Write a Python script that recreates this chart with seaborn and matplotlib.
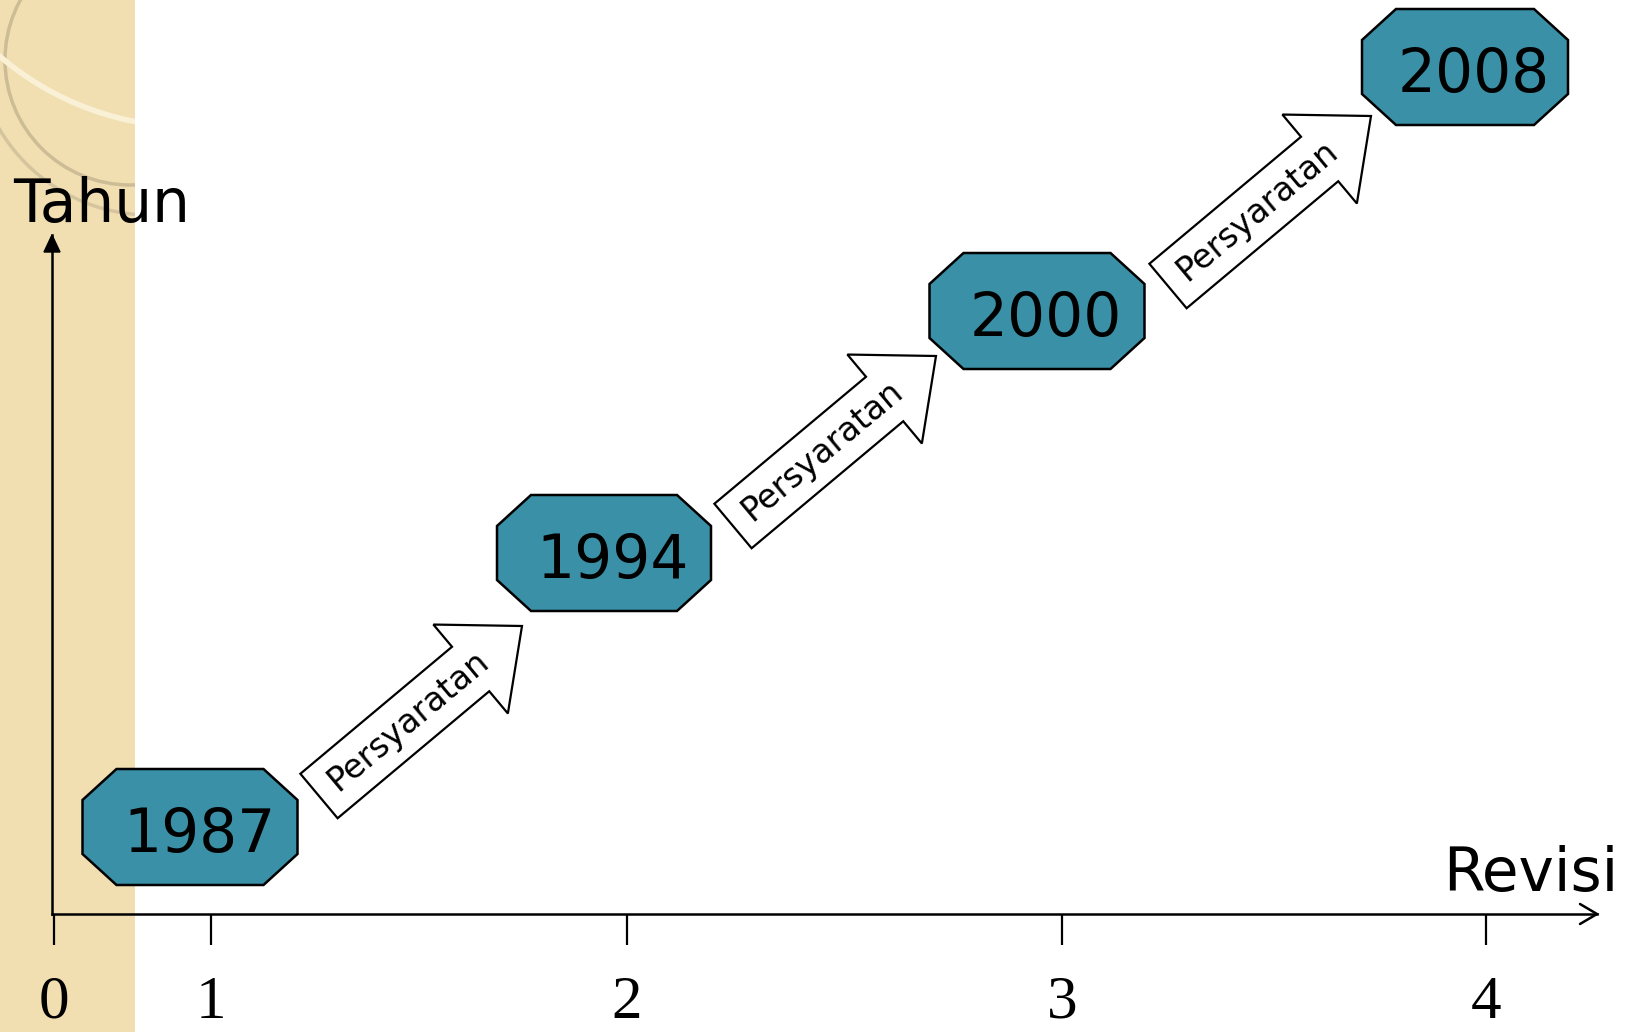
import numpy as np
import matplotlib.pyplot as plt
import seaborn as sns
from matplotlib.patches import Polygon, Rectangle, Circle, FancyArrow

# Data (posisi dalam piksel dari titik asal sumbu)
tahun = ["1987", "1994", "2000", "2008"]
revisi_label = ["0", "1", "2", "3", "4"]
revisi_pos = [2, 159, 575, 1010, 1434]
kotak_x = [138, 552, 985, 1413]
kotak_y = [87, 361, 603, 847]
kotak_lebar = [215, 214, 215, 206]
panah_x = [267, 681, 1116]
panah_y = [118, 388, 628]
panah_teks = "Persyaratan"

sns.set_theme(style="ticks")
plt.rcParams["font.family"] = ["DejaVu Sans"]
plt.rcParams["text.color"] = "black"

W, H = 1630, 1032
fig = plt.figure(figsize=(W / 100, H / 100), dpi=100)
fig.patch.set_facecolor("white")

# Latar belakang: strip krem di kiri
bg = fig.add_axes([0, 0, 1, 1], zorder=0)
bg.set_xlim(0, W)
bg.set_ylim(H, 0)
bg.axis("off")
strip = Rectangle((0, 0), 135, H, facecolor="#f1dfb2", edgecolor="none")
bg.add_patch(strip)
for c in [Circle((130, 60), 125, fill=False, ec="#cdbd96", lw=2.5),
          Circle((150, 40), 175, fill=False, ec="#d5c59f", lw=2.5),
          Circle((191, -167), 294, fill=False, ec="#f9f0d6", lw=4)]:
    bg.add_patch(c)
    c.set_clip_path(strip)

# Sumbu utama
x0, y0, x1, y1 = 52, 914, 1597, 235
ax = fig.add_axes([x0 / W, 1 - y0 / H, (x1 - x0) / W, (y0 - y1) / H], zorder=1)
ax.patch.set_alpha(0)
ax.set_xlim(0, x1 - x0)
ax.set_ylim(0, y0 - y1)
sns.despine(ax=ax)
for s in ["left", "bottom"]:
    ax.spines[s].set_color("black")
    ax.spines[s].set_linewidth(1.8)
ax.set_xticks(revisi_pos, revisi_label, fontfamily="Liberation Serif", fontsize=44)
ax.set_yticks([])
ax.tick_params(axis="x", direction="out", length=22, width=1.6, pad=22,
               colors="black", bottom=True)

# Ujung panah sumbu
ym = y0 - y1
xm = x1 - x0
ax.add_patch(Polygon([[0, ym], [-8, ym - 17], [8, ym - 17]], closed=True,
                     fc="black", ec="black", clip_on=False))
ax.plot([xm - 17, xm, xm - 17], [10, 0, -10], color="black", lw=1.8,
        clip_on=False, solid_joinstyle="miter")

ax.text(-39, 692, "Tahun", fontsize=43, ha="left", va="baseline", clip_on=False)
ax.text(1391, 23, "Revisi", fontsize=43, ha="left", va="baseline")

# Kotak segi delapan
hh, dx, dy = 58, 34, 31
for cx, cy, lb, t in zip(kotak_x, kotak_y, kotak_lebar, tahun):
    hw = lb / 2
    pts = [[cx - hw + dx, cy + hh], [cx + hw - dx, cy + hh], [cx + hw, cy + hh - dy],
           [cx + hw, cy - hh + dy], [cx + hw - dx, cy - hh], [cx - hw + dx, cy - hh],
           [cx - hw, cy - hh + dy], [cx - hw, cy + hh - dy]]
    ax.add_patch(Polygon(pts, closed=True, fc="#3a90a6", ec="black", lw=1.8,
                         clip_on=False, zorder=3))
    ax.text(cx + 9, cy - 25, t, fontsize=43, ha="center", va="baseline",
            color="black", zorder=4, clip_on=False)

# Panah "Persyaratan"
vx, vy = 203, 170
sudut = np.degrees(np.arctan2(vy, vx))
ux, uy = np.cos(np.radians(sudut)), np.sin(np.radians(sudut))
for px, py in zip(panah_x, panah_y):
    ax.add_patch(FancyArrow(px, py, vx, vy, width=58, head_width=116, head_length=67,
                            length_includes_head=True, fc="white", ec="black",
                            lw=1.6, clip_on=False, zorder=3))
    ax.text(px + 117 * ux, py + 117 * uy, panah_teks, fontsize=24, rotation=sudut,
            rotation_mode="anchor", ha="center", va="center", color="black", zorder=4)

fig.savefig("out.png", dpi=100)
